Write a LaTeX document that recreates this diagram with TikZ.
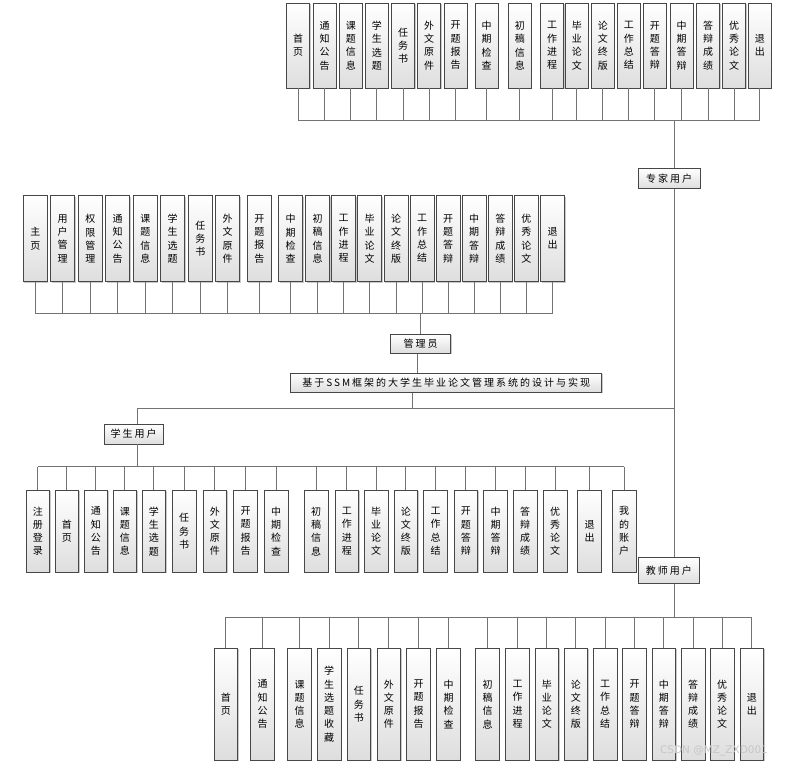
\documentclass[tikz,border=0pt]{standalone}
\usepackage{fontspec}
\newfontfamily\cjk{Noto Sans CJK SC}
\newfontfamily\cjkls[LetterSpace=20]{Noto Sans CJK SC}
\newfontfamily\wmfont{DejaVu Sans}
\usetikzlibrary{shadows}
\tikzset{
  box/.style={draw=black!72, line width=0.7pt, top color=white, bottom color=black!13,
    inner sep=0pt, align=center, text=black,
    drop shadow={shadow xshift=0.9pt, shadow yshift=-0.9pt, opacity=0.35, fill=black!60}},
  leaf/.style={box, font=\cjk\fontsize{10}{13.3}\selectfont},
  toprow/.style={leaf, minimum width=23pt, minimum height=85pt},
  admrow/.style={leaf, minimum width=24pt, minimum height=86pt},
  sturow/.style={leaf, minimum width=23.7pt, minimum height=82.5pt},
  tearow/.style={leaf, minimum width=23.7pt, minimum height=111.7pt},
  head/.style={box, font=\cjkls\fontsize{10}{12}\selectfont, minimum height=19pt},
  conn/.style={draw=black!55, line width=0.9pt}
}
\begin{document}
\begin{tikzpicture}[x=1pt,y=-1pt]
\fill[white] (0,0) rectangle (789,768);
\useasboundingbox (0,0) rectangle (789,768);

% ---------- expert user leaves ----------
\foreach \i/\xl/\t in {1/286.7/{首\\页},2/313/{通\\知\\公\\告},3/339.3/{课\\题\\信\\息},4/365.3/{学\\生\\选\\题},
  5/391.7/{任\\务\\书},6/417.7/{外\\文\\原\\件},7/444/{开\\题\\报\\告},8/475/{中\\期\\检\\查},
  9/508.3/{初\\稿\\信\\息},10/540.7/{工\\作\\进\\程},11/565.3/{毕\\业\\论\\文},12/591.3/{论\\文\\终\\版},
  13/617.3/{工\\作\\总\\结},14/643.3/{开\\题\\答\\辩},15/670/{中\\期\\答\\辩},16/696.7/{答\\辩\\成\\绩},
  17/722.7/{优\\秀\\论\\文},18/748.3/{退\\出}}
  \node[toprow] (t\i) at ({\xl+11.5},45.5) {\t};

% ---------- admin leaves ----------
\foreach \i/\xl/\t in {1/23.3/{主\\页},2/50.7/{用\\户\\管\\理},3/78.3/{权\\限\\管\\理},4/105.7/{通\\知\\公\\告},
  5/133.3/{课\\题\\信\\息},6/160.7/{学\\生\\选\\题},7/188.3/{任\\务\\书},8/215.7/{外\\文\\原\\件},
  9/247.3/{开\\题\\报\\告},10/278.7/{中\\期\\检\\查},11/305.7/{初\\稿\\信\\息},12/331.7/{工\\作\\进\\程},
  13/357.7/{毕\\业\\论\\文},14/384/{论\\文\\终\\版},15/410/{工\\作\\总\\结},16/436/{开\\题\\答\\辩},
  17/462/{中\\期\\答\\辩},18/488.3/{答\\辩\\成\\绩},19/514.3/{优\\秀\\论\\文},20/540.7/{退\\出}}
  \node[admrow] (a\i) at ({\xl+12},238.7) {\t};

% ---------- student leaves ----------
\foreach \i/\xl/\t in {1/26/{注\\册\\登\\录},2/55/{首\\页},3/84/{通\\知\\公\\告},4/113/{课\\题\\信\\息},
  5/142/{学\\生\\选\\题},6/172.3/{任\\务\\书},7/203/{外\\文\\原\\件},8/233.7/{开\\题\\报\\告},
  9/264.3/{中\\期\\检\\查},10/304.3/{初\\稿\\信\\息},11/335/{工\\作\\进\\程},12/364.3/{毕\\业\\论\\文},
  13/394/{论\\文\\终\\版},14/423.7/{工\\作\\总\\结},15/454/{开\\题\\答\\辩},16/483.7/{中\\期\\答\\辩},
  17/513.3/{答\\辩\\成\\绩},18/543.3/{优\\秀\\论\\文},19/577.7/{退\\出},20/612.3/{我\\的\\账\\户}}
  \node[sturow] (s\i) at ({\xl+11.85},531.2) {\t};

% ---------- teacher leaves ----------
\foreach \i/\xl/\t in {1/214/{首\\页},2/250.7/{通\\知\\公\\告},3/287.7/{课\\题\\信\\息},4/317.3/{学\\生\\选\\题\\收\\藏},
  5/347/{任\\务\\书},6/377/{外\\文\\原\\件},7/406.7/{开\\题\\报\\告},8/436.7/{中\\期\\检\\查},
  9/475.7/{初\\稿\\信\\息},10/505.7/{工\\作\\进\\程},11/535/{毕\\业\\论\\文},12/564/{论\\文\\终\\版},
  13/593.3/{工\\作\\总\\结},14/622.7/{开\\题\\答\\辩},15/652/{中\\期\\答\\辩},16/681.3/{答\\辩\\成\\绩},
  17/710.3/{优\\秀\\论\\文},18/740/{退\\出}}
  \node[tearow] (c\i) at ({\xl+11.85},704.2) {\t};

% ---------- header nodes ----------
\node[head, minimum width=61.7pt, minimum height=20pt] (zj) at (669.2,178.3) {专家用户};
\node[head, minimum width=60pt] (gl) at (420.6,343.7) {管理员};
\node[head, minimum width=311pt] (ti) at (446.2,382.8) {基于SSM框架的大学生毕业论文管理系统的设计与实现};
\node[head, minimum width=59.3pt, minimum height=20pt] (xs) at (133.7,434) {学生用户};
\node[head, minimum width=60.5pt, minimum height=26pt] (js) at (668.8,570.3) {教师用户};

\coordinate (spx) at (674,0);
\coordinate (hub) at (412.5,408.3);
\coordinate (sxx) at (137.3,0);

% ---------- connectors ----------
\begin{scope}[on background layer/.style={}]
% expert
\foreach \i in {1,...,18} \draw[conn] (t\i.south) -- (t\i.south |- 0,120);
\draw[conn] (t1.south |- 0,120) -- (t18.south |- 0,120);
\draw[conn] (zj.north -| spx) -- (spx |- 0,120);
\draw[conn] (zj.south -| spx) -- (js.north -| spx);
% admin
\foreach \i in {1,...,20} \draw[conn] (a\i.south) -- (a\i.south |- 0,313.3);
\draw[conn] (a1.south |- 0,313.3) -- (a20.south |- 0,313.3);
\draw[conn] (gl.north) -- (gl.north |- 0,313.3);
\draw[conn] (gl.south -| 417.7,0) -- (ti.north -| 417.7,0);
% main
\draw[conn] (ti.south -| hub) -- (hub);
\draw[conn] (sxx |- hub) -- (spx |- hub);
% student
\draw[conn] (xs.north -| sxx) -- (sxx |- hub);
\draw[conn] (xs.south -| sxx) -- (sxx |- 0,466.7);
\foreach \i in {1,...,20} \draw[conn] (s\i.north) -- (s\i.north |- 0,466.7);
\draw[conn] (s1.north |- 0,466.7) -- (s20.north |- 0,466.7);
% teacher
\draw[conn] (js.south -| spx) -- (spx |- 0,617.3);
\foreach \i in {1,...,18} \draw[conn] (c\i.north) -- (c\i.north |- 0,617.3);
\draw[conn] (c1.north |- 0,617.3) -- (c18.north |- 0,617.3);
\end{scope}

% watermark
\node[font=\wmfont\fontsize{10.5}{12}\selectfont, text=black!22, inner sep=0pt] (wm) at (714,751) {CSDN @MZ\_ZXD001};
\end{tikzpicture}
\end{document}
